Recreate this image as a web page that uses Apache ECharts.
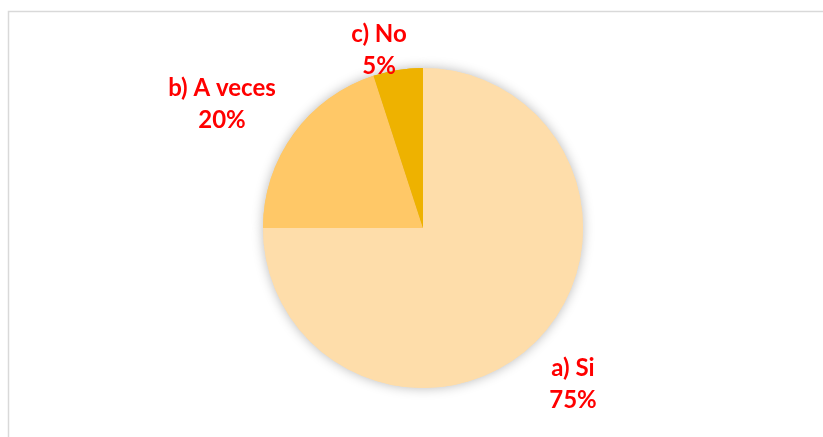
<!DOCTYPE html>
<html>
<head>
<meta charset="utf-8">
<script src="https://cdn.jsdelivr.net/npm/echarts@6/dist/echarts.min.js"></script>
<style>html,body{margin:0;padding:0;background:#fff}#c{width:823px;height:437px}</style>
</head>
<body>
<div id="c"></div>
<script>
const categories = ['a) Si', 'b) A veces', 'c) No'];
const values = [75, 20, 5];
const colors = ['#FEDDAA', '#FFC867', '#EEB200'];
const labelPos = [[573, 384], [222, 104], [379, 50]];

const pieData = categories.map((c, i) => ({name: c, value: values[i], itemStyle: {color: colors[i]}}));

const chart = echarts.init(document.getElementById('c'), null, {renderer: 'canvas'});
chart.setOption({
  backgroundColor: '#ffffff',
  animation: false,
  graphic: [{
    type: 'rect',
    shape: {x: 8.5, y: 11.5, width: 830, height: 440},
    style: {fill: 'none', stroke: '#d9d9d9', lineWidth: 1.5},
    z: -1
  }],
  series: [{
    type: 'pie',
    z: 1,
    center: [423, 228],
    radius: 160,
    startAngle: 90,
    clockwise: true,
    silent: true,
    data: pieData,
    itemStyle: {
      shadowBlur: 12,
      shadowColor: 'rgba(0,0,0,0.28)',
      borderWidth: 0
    },
    label: {show: false},
    labelLine: {show: false}
  }, {
    type: 'pie',
    z: 2,
    center: [423, 228],
    radius: 160,
    startAngle: 90,
    clockwise: true,
    data: pieData,
    itemStyle: {borderWidth: 0},
    label: {
      show: true,
      formatter: '{b}\n{d}%',
      color: '#FF0000',
      fontFamily: 'Lato',
      fontWeight: 'bold',
      fontSize: 24,
      lineHeight: 32,
      align: 'center'
    },
    labelLine: {show: false},
    labelLayout: function (p) {
      const pos = labelPos[p.dataIndex];
      return {x: pos[0], y: pos[1], align: 'center', verticalAlign: 'middle'};
    }
  }]
});
</script>
</body>
</html>
